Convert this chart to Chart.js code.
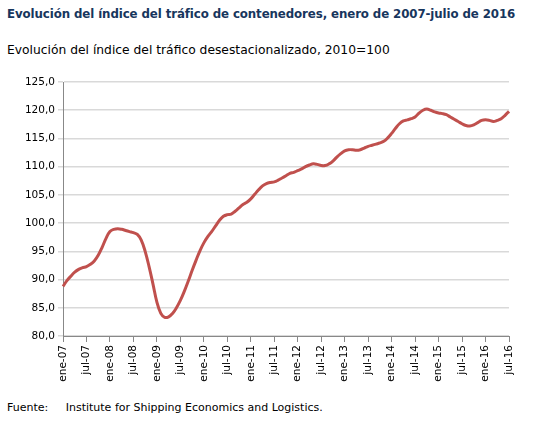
<!DOCTYPE html>
<html><head><meta charset="utf-8">
<script src="https://cdn.jsdelivr.net/npm/chart.js@4"></script>
<style>
body{margin:0;width:548px;height:422px;position:relative;background:#fff;font-family:"DejaVu Sans",Verdana,sans-serif;overflow:hidden}
.t{position:absolute;white-space:nowrap}
#wrap{position:absolute;left:0;top:0;width:548px;height:422px}
</style></head><body>
<div class="t" style="left:7px;top:7px;font-size:11.8px;font-weight:bold;color:#17365d;letter-spacing:-0.1px">Evolución del índice del tráfico de contenedores, enero de 2007-julio de 2016</div>
<div class="t" style="left:7px;top:43px;font-size:12.3px;color:#000">Evolución del índice del tráfico desestacionalizado, 2010=100</div>
<div class="t" style="left:7px;top:401px;font-size:11px;color:#000">Fuente:&nbsp;&nbsp;&nbsp;&nbsp;&nbsp;Institute for Shipping Economics and Logistics.</div>
<div id="wrap"><canvas id="c"></canvas></div>
<script>
const years=["07","08","09","10","11","12","13","14","15","16"];
const months=["ene","feb","mar","abr","may","jun","jul","ago","sep","oct","nov","dic"];
const values=[
88.8,89.8,90.6,91.3,91.8,92.1,92.3,92.7,93.3,94.3,95.7,97.3,
98.5,98.9,99.0,98.9,98.7,98.5,98.3,98.0,97.0,95.0,92.3,89.2,
86.0,84.0,83.3,83.4,84.0,85.0,86.3,87.9,89.7,91.6,93.4,95.1,
96.5,97.6,98.5,99.5,100.5,101.2,101.5,101.6,102.1,102.7,103.3,103.7,
104.3,105.1,105.9,106.6,107.0,107.2,107.3,107.6,108.0,108.4,108.8,109.0,
109.3,109.6,110.0,110.3,110.5,110.4,110.2,110.2,110.5,111.0,111.7,112.3,
112.8,113.0,113.0,112.9,113.0,113.3,113.6,113.8,114.0,114.2,114.5,115.1,
115.9,116.8,117.6,118.1,118.3,118.5,118.8,119.5,120.0,120.2,120.0,119.7,
119.5,119.4,119.2,118.8,118.4,118.0,117.6,117.3,117.2,117.4,117.8,118.2,
118.3,118.2,118.0,118.2,118.5,119.1,119.8];
const labels=[];
for(const y of years)for(const m of months){if(labels.length<values.length)labels.push(m+"-"+y);}
new Chart(document.getElementById('c'),{
type:'line',
data:{labels,datasets:[{data:values,borderColor:'#c0504d',borderWidth:3,pointRadius:0,tension:0.4,fill:false}]},
options:{responsive:true,maintainAspectRatio:false,animation:false,
layout:{padding:{top:82,right:39,bottom:0,left:0}},
plugins:{legend:{display:false},tooltip:{enabled:false}},
scales:{
x:{offset:false,afterFit:s=>{s.height=86;},
grid:{drawOnChartArea:false,tickLength:6,color:c=>(c.index%6===0?'#888':'rgba(0,0,0,0)')},
border:{color:'#888'},
ticks:{autoSkip:false,maxRotation:90,minRotation:90,color:'#000',font:{family:'DejaVu Sans',size:10.5},
callback:function(v,i){return i%6===0?labels[i]:'';}}},
y:{min:80,max:125,afterFit:s=>{s.width=63;},
grid:{color:'#d9d9d9',lineWidth:1.5,tickLength:5},
border:{color:'#888'},
ticks:{stepSize:5,color:'#000',font:{family:'DejaVu Sans',size:10.5},callback:v=>v.toFixed(1).replace('.',',')}}
}}});
</script></body></html>
